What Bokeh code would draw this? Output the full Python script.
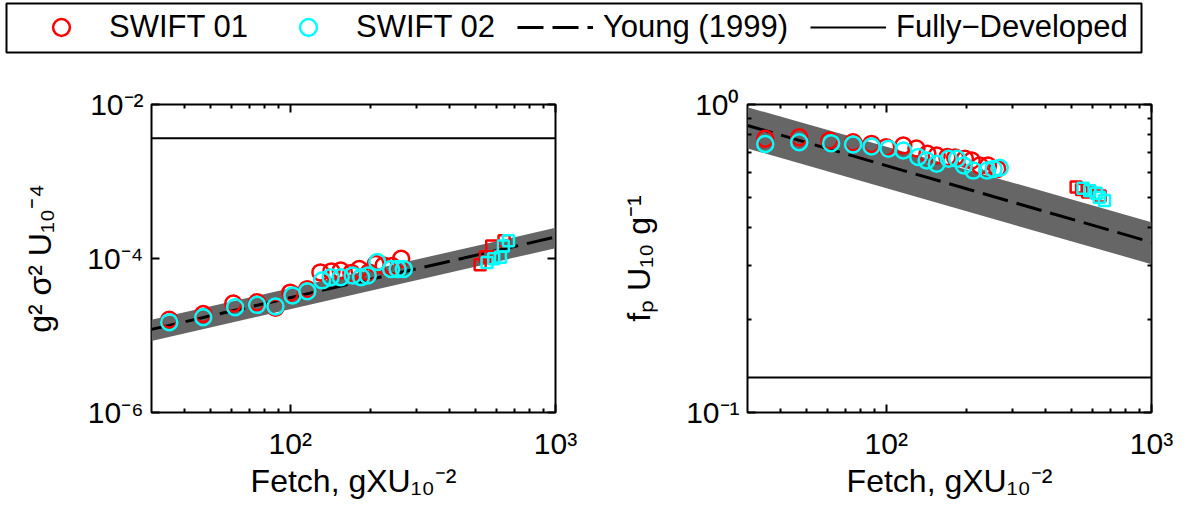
from bokeh.plotting import figure
from bokeh.models import FixedTicker, LogAxis, Legend, LegendItem, Range1d
from bokeh.layouts import column, row
from bokeh.embed import file_html
from bokeh.resources import INLINE

FONT = "Liberation Sans"
NAN = float("nan")

# ---------------- data ----------------
X_RANGE = (30, 1000)

# SWIFT 01 (circles)
FETCH_01 = [35, 47, 61, 75, 88, 100, 116, 130, 143, 155, 170, 182, 198, 210, 225, 242, 262]
EPS_01 = [1.6e-5, 1.9e-5, 2.6e-5, 2.7e-5, 2.3e-5, 3.6e-5, 4.0e-5, 6.6e-5, 6.8e-5, 7.0e-5,
          6.5e-5, 7.3e-5, 6.6e-5, 8.5e-5, 8.1e-5, 8.0e-5, 9.9e-5]
NU_01 = [0.774, 0.783, 0.764, 0.754, 0.745, 0.727, 0.736, 0.72, 0.692, 0.683,
         0.675, 0.673, 0.667, 0.658, 0.634, 0.634, 0.618]

# SWIFT 02 (circles)
FETCH_02 = [35, 47, 62, 75, 88, 102, 116, 132, 142, 155, 172, 185, 196, 213, 240, 254, 268]
EPS_02 = [1.49e-5, 1.73e-5, 2.33e-5, 2.5e-5, 2.38e-5, 3.3e-5, 3.75e-5, 5.2e-5, 5.7e-5, 5.7e-5,
          6.0e-5, 5.7e-5, 6.0e-5, 9.0e-5, 7.3e-5, 7.3e-5, 7.3e-5]
NU_02 = [0.745, 0.754, 0.749, 0.742, 0.731, 0.718, 0.709, 0.675, 0.658, 0.642,
         0.667, 0.667, 0.634, 0.61, 0.61, 0.618, 0.623]

# squares (second site)
SQ_FETCH_01 = [520, 545, 575, 640]
SQ_EPS_01 = [8.3e-5, 1.05e-4, 1.45e-4, 1.7e-4]
SQ_NU_01 = [0.54, 0.53, 0.52, 0.505]

SQ_FETCH_02 = [552, 585, 620, 636, 665]
SQ_EPS_02 = [8.9e-5, 9.9e-5, 1.04e-4, 1.45e-4, 1.7e-4]
SQ_NU_02 = [0.535, 0.525, 0.515, 0.50, 0.488]

# Young (1999) curve and band (read at the panel edges)
YOUNG_FETCH = [30, 1000]
YOUNG_EPS = [1.2e-5, 1.9e-4]
YOUNG_EPS_LO = [8.5e-6, 1.36e-4]
YOUNG_EPS_HI = [1.6e-5, 2.5e-4]
YOUNG_NU = [0.855, 0.357]
YOUNG_NU_LO = [0.72, 0.303]
YOUNG_NU_HI = [0.98, 0.415]

# fully developed limits
FD_EPS = 3.64e-3
FD_NU = 0.13

# ticks
X_TICKS = [100, 1000]
X_MINOR = [40, 50, 60, 70, 80, 90, 200, 300, 400, 500, 600, 700, 800, 900]
X_LABELS = {100: "10\u00b2", 1000: "10\u00b3"}
EPS_TICKS = [1e-6, 1e-4, 1e-2]
EPS_LABELS = {1e-6: "10\u207b\u2076", 1e-4: "10\u207b\u2074", 1e-2: "10\u207b\u00b2"}
NU_TICKS = [0.1, 1.0]
NU_MINOR = [0.2, 0.3, 0.4, 0.5, 0.6, 0.7, 0.8, 0.9]
NU_LABELS = {0.1: "10\u207b\u00b9", 1.0: "10\u2070"}

X_TITLE = "Fetch, gXU\u2081\u2080\u207b\u00b2"
EPS_TITLE = "g\u00b2 \u03c3\u00b2 U\u2081\u2080\u207b\u2074"
NU_TITLE = "f\u209a U\u2081\u2080 g\u207b\u00b9"

SERIES_NAMES = ["SWIFT 01", "SWIFT 02", "Young (1999)", "Fully\u2212Developed"]

RED = "#ff0000"
CYAN = "#00ffff"
BAND = "#666666"
MARK = 16
SQ = 11


def style_axis(ax, show_labels=True):
    ax.axis_line_color = None
    ax.major_tick_in = 8
    ax.major_tick_out = 0
    ax.minor_tick_in = 4
    ax.minor_tick_out = 0
    ax.major_tick_line_width = 2
    ax.minor_tick_line_width = 2
    ax.major_tick_line_color = "black"
    ax.minor_tick_line_color = "black"
    ax.major_label_text_font = FONT
    if show_labels:
        ax.major_label_text_color = "black"
        ax.major_label_text_font_size = "30px"
    else:
        ax.major_label_text_color = None
        ax.major_label_text_font_size = "2px"
        ax.major_label_standoff = 0
    ax.axis_label_text_font = FONT
    ax.axis_label_text_font_size = "32px"
    ax.axis_label_text_font_style = "normal"
    ax.axis_label_text_color = "black"


def panel(y_rng, y_ticks, y_minor, y_labels, y_title, fd, yc, ylo, yhi,
          y01, y02, sq01, sq02, left_border, right_border):
    p = figure(frame_width=404, frame_height=308,
               x_axis_type="log", y_axis_type="log",
               x_range=Range1d(*X_RANGE), y_range=Range1d(*y_rng),
               output_backend="svg", toolbar_location=None,
               min_border_left=left_border, min_border_right=right_border,
               min_border_top=50, min_border_bottom=90,
               background_fill_color="white", border_fill_color="white")
    p.grid.visible = False
    p.outline_line_color = "black"
    p.outline_line_width = 2
    p.outline_line_alpha = 1

    xa = p.xaxis[0]
    xa.ticker = FixedTicker(ticks=X_TICKS, minor_ticks=X_MINOR)
    xa.major_label_overrides = X_LABELS
    xa.axis_label = X_TITLE
    style_axis(xa)
    xa.major_label_standoff = 14
    xa.axis_label_standoff = 0

    ya = p.yaxis[0]
    ya.ticker = FixedTicker(ticks=y_ticks, minor_ticks=y_minor)
    ya.major_label_overrides = y_labels
    ya.axis_label = y_title
    style_axis(ya)
    ya.major_label_standoff = 8
    ya.axis_label_standoff = 26

    top = LogAxis(ticker=FixedTicker(ticks=X_TICKS, minor_ticks=X_MINOR))
    style_axis(top, False)
    p.add_layout(top, "above")
    rgt = LogAxis(ticker=FixedTicker(ticks=y_ticks, minor_ticks=y_minor))
    style_axis(rgt, False)
    p.add_layout(rgt, "right")

    p.varea(x=YOUNG_FETCH, y1=ylo, y2=yhi, fill_color=BAND, fill_alpha=1)
    p.line(x=list(X_RANGE), y=[fd, fd], line_color="black", line_width=2)
    p.line(x=YOUNG_FETCH, y=yc, line_color="black", line_width=3, line_dash="26 9")

    p.scatter(x=FETCH_01, y=y01, marker="circle", size=MARK, fill_color=None,
              line_color=RED, line_width=2.5)
    p.scatter(x=FETCH_02, y=y02, marker="circle", size=MARK, fill_color=None,
              line_color=CYAN, line_width=2.5)
    p.scatter(x=SQ_FETCH_01, y=sq01, marker="square", size=SQ, fill_color=None,
              line_color=RED, line_width=2.5)
    p.scatter(x=SQ_FETCH_02, y=sq02, marker="square", size=SQ, fill_color=None,
              line_color=CYAN, line_width=2.5)
    return p


left = panel((1e-6, 1e-2), EPS_TICKS, [], EPS_LABELS, EPS_TITLE, FD_EPS,
             YOUNG_EPS, YOUNG_EPS_LO, YOUNG_EPS_HI, EPS_01, EPS_02,
             SQ_EPS_01, SQ_EPS_02, 151, 49)
right = panel((0.1, 1.0), NU_TICKS, NU_MINOR, NU_LABELS, NU_TITLE, FD_NU,
              YOUNG_NU, YOUNG_NU_LO, YOUNG_NU_HI, NU_01, NU_02,
              SQ_NU_01, SQ_NU_02, 143, 22)

# ---------------- legend strip (its frame outline is the legend box) ----------------
lf = figure(frame_width=1135, frame_height=49, x_range=Range1d(0, 1), y_range=Range1d(0, 1),
            output_backend="svg", toolbar_location=None,
            min_border_left=6, min_border_top=3, min_border_right=4, min_border_bottom=2,
            x_axis_location=None, y_axis_location=None,
            background_fill_color="white", border_fill_color="white")
lf.grid.visible = False
lf.outline_line_color = "black"
lf.outline_line_width = 2
# placeholder renderers (one NaN row, never drawn) that only provide legend glyphs
g1 = lf.scatter(x=[NAN], y=[NAN], marker="circle", size=MARK, fill_color=None,
                line_color=RED, line_width=2.5)
g2 = lf.scatter(x=[NAN], y=[NAN], marker="circle", size=MARK, fill_color=None,
                line_color=CYAN, line_width=2.5)
g3 = lf.line(x=[NAN, NAN], y=[NAN, NAN], line_color="black", line_width=3, line_dash="26 9")
g4 = lf.line(x=[NAN, NAN], y=[NAN, NAN], line_color="black", line_width=2)

legend = Legend(items=[LegendItem(label=SERIES_NAMES[0], renderers=[g1]),
                       LegendItem(label=SERIES_NAMES[1], renderers=[g2]),
                       LegendItem(label=SERIES_NAMES[2], renderers=[g3]),
                       LegendItem(label=SERIES_NAMES[3], renderers=[g4])],
                orientation="horizontal", location=(17, 4), margin=0,
                padding=0, spacing=22, glyph_width=76, glyph_height=42,
                label_height=42, label_standoff=10,
                label_text_font=FONT, label_text_font_size="31px",
                label_text_color="black",
                border_line_color=None, background_fill_alpha=0)
lf.add_layout(legend, "center")

layout = column(lf, row(left, right))

open("out.html", "w").write(file_html(layout, INLINE))
